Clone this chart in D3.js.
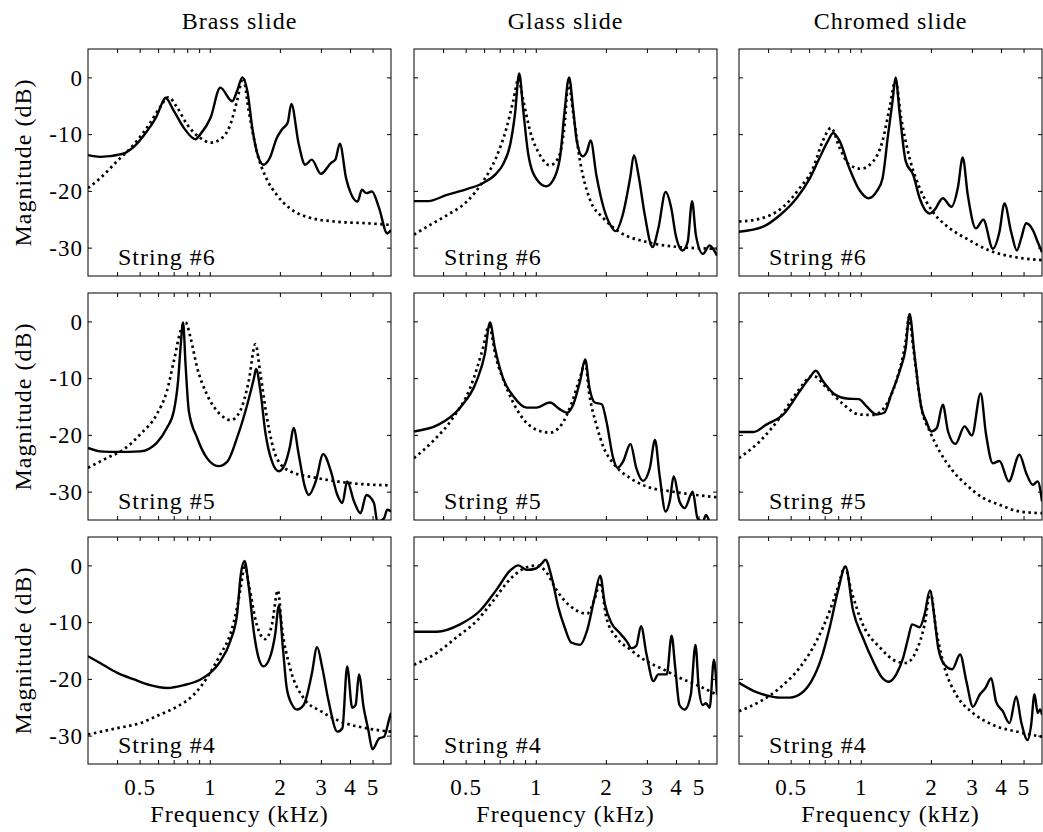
<!DOCTYPE html>
<html lang="en">
  <head>
    <meta charset="UTF-8" />
    <title>Slide frequency responses</title>
    <style>
      body { margin: 0; background: #fff; }
      text { font-family: "Liberation Serif", "Times New Roman", serif; fill: #000; letter-spacing: 1px; }
      .axis path { display: none; }
      .axis line { stroke: #000; stroke-width: 1; }
      .axis text { font-size: 23px; }
      .frame { fill: none; stroke: #000; stroke-width: 1; }
      .measured { fill: none; stroke: #000; stroke-width: 2.4; stroke-linejoin: round; }
      .model { fill: none; stroke: #000; stroke-width: 2.7; stroke-dasharray: 2.5 3.5; }
    </style>
    <script src="https://cdn.jsdelivr.net/npm/d3@7"></script>
  </head>
  <body>
    <svg width="1043" height="832"></svg>
    <script>
      var slides = ['Brass slide', 'Glass slide', 'Chromed slide']
      var strings = ['String #6', 'String #5', 'String #4']
      var xTicks = [0.4, 0.5, 0.6, 0.7, 0.8, 0.9, 1, 2, 3, 4, 5]
      var xTickLabels = { 0.5: '0.5', 1: '1', 2: '2', 3: '3', 4: '4', 5: '5' }
      var yTicks = [-30, -20, -10, 0]

      // [frequency kHz, magnitude dB] - solid = measured, dotted = model
      var brass6Meas = [[0.300,-13.7],[0.338,-14.0],[0.420,-13.5],[0.473,-12.2],[0.537,-9.5],[0.592,-6.8],[0.632,-4.1],[0.645,-3.6],[0.701,-5.9],[0.774,-8.9],[0.853,-10.8],[0.868,-10.9],[0.912,-10.0],[1.008,-7.1],[1.110,-1.8],[1.226,-4.0],[1.248,-4.2],[1.31,-2.4],[1.38,0.0],[1.45,-2.4],[1.53,-9.5],[1.59,-13.0],[1.70,-15.4],[1.81,-14.2],[1.94,-10.7],[2.04,-9.2],[2.16,-8.0],[2.24,-4.7],[2.41,-11.8],[2.57,-15.4],[2.74,-14.5],[3.0,-17.0],[3.31,-15.1],[3.46,-14.5],[3.62,-11.7],[3.85,-17.8],[4.03,-20.4],[4.31,-21.9],[4.50,-19.8],[4.70,-20.4],[4.97,-20.1],[5.33,-23.0],[5.78,-27.5],[6.0,-26.9]]
      var brass6Model = [[0.300,-19.5],[0.338,-17.8],[0.399,-14.8],[0.473,-11.8],[0.555,-8.0],[0.611,-5.3],[0.664,-3.5],[0.724,-5.3],[0.799,-8.3],[0.912,-10.7],[1.008,-11.5],[1.110,-10.9],[1.226,-8.3],[1.31,-4.1],[1.39,-0.1],[1.47,-5.9],[1.59,-13.0],[1.75,-17.8],[1.94,-20.7],[2.21,-23.1],[2.62,-24.6],[3.43,-25.4],[4.70,-25.7],[6.0,-26.0]]
      var glass6Meas = [[0.300,-21.8],[0.346,-21.8],[0.415,-20.7],[0.505,-19.7],[0.594,-18.6],[0.675,-17.0],[0.722,-15.4],[0.777,-11.8],[0.814,-6.5],[0.849,0.7],[0.884,-5.9],[0.929,-13.6],[1.01,-18.0],[1.11,-19.2],[1.18,-18.3],[1.27,-14.2],[1.33,-5.9],[1.39,0.0],[1.45,-5.9],[1.50,-11.2],[1.59,-13.9],[1.66,-13.0],[1.72,-11.1],[1.82,-17.2],[1.96,-23.1],[2.09,-26.0],[2.20,-27.1],[2.36,-24.3],[2.54,-17.8],[2.64,-13.7],[2.76,-17.2],[2.94,-24.3],[3.17,-29.9],[3.36,-26.6],[3.61,-20.2],[3.82,-23.1],[3.99,-27.8],[4.27,-30.5],[4.49,-29.0],[4.69,-21.8],[4.87,-27.8],[5.22,-31.1],[5.58,-29.6],[5.77,-30.2],[6.0,-31.4]]
      var glass6Model = [[0.300,-27.7],[0.352,-26.0],[0.415,-24.3],[0.505,-21.9],[0.594,-18.3],[0.675,-14.2],[0.749,-8.9],[0.801,-4.1],[0.842,-0.3],[0.884,-4.1],[0.946,-9.5],[1.04,-13.6],[1.148,-15.5],[1.25,-14.2],[1.33,-8.3],[1.38,-0.9],[1.45,-6.5],[1.55,-14.8],[1.70,-21.3],[1.96,-24.9],[2.28,-27.2],[2.99,-29.0],[4.13,-29.9],[6.0,-30.2]]
      var chrome6Meas = [[0.300,-27.2],[0.381,-26.3],[0.449,-24.3],[0.530,-21.3],[0.604,-17.8],[0.665,-14.2],[0.723,-11.2],[0.761,-9.8],[0.811,-11.2],[0.893,-16.0],[0.985,-19.8],[1.08,-21.3],[1.17,-20.1],[1.24,-17.8],[1.31,-10.1],[1.37,-4.1],[1.41,0.0],[1.47,-6.5],[1.56,-14.8],[1.68,-17.2],[1.79,-21.3],[1.98,-24.0],[2.07,-23.4],[2.25,-21.3],[2.45,-22.8],[2.61,-19.5],[2.74,-14.1],[2.88,-20.7],[3.12,-26.6],[3.36,-25.1],[3.69,-30.2],[3.94,-27.2],[4.14,-22.2],[4.42,-27.2],[4.68,-30.5],[4.88,-28.4],[5.13,-25.7],[5.48,-26.9],[5.75,-29.0],[6.0,-30.8]]
      var chrome6Model = [[0.300,-25.4],[0.369,-24.9],[0.465,-22.8],[0.547,-19.5],[0.624,-16.0],[0.687,-11.2],[0.746,-8.9],[0.811,-12.4],[0.893,-15.4],[1.00,-16.1],[1.13,-14.8],[1.24,-11.2],[1.33,-5.3],[1.41,-0.6],[1.49,-7.1],[1.62,-14.2],[1.79,-19.5],[2.04,-23.7],[2.41,-26.6],[2.84,-28.4],[3.56,-30.5],[4.63,-31.7],[6.0,-32.2]]

      var brass5Meas = [[0.300,-22.3],[0.338,-22.9],[0.399,-23.0],[0.503,-22.9],[0.592,-21.4],[0.654,-18.8],[0.701,-15.8],[0.731,-10.5],[0.749,-4.6],[0.768,-0.2],[0.787,-7.6],[0.813,-15.8],[0.882,-20.5],[0.973,-24.1],[1.09,-25.5],[1.19,-24.7],[1.31,-20.5],[1.45,-14.6],[1.55,-9.9],[1.58,-8.4],[1.65,-12.3],[1.73,-19.4],[1.85,-24.7],[1.98,-26.4],[2.11,-25.0],[2.21,-22.0],[2.29,-18.8],[2.41,-23.5],[2.57,-29.4],[2.66,-30.6],[2.85,-28.2],[3.07,-23.4],[3.31,-26.4],[3.53,-30.6],[3.71,-32.0],[3.89,-28.2],[4.16,-31.7],[4.44,-33.8],[4.70,-30.6],[5.07,-32.0],[5.24,-35.3],[5.60,-34.7],[5.78,-33.2],[6.0,-33.5]]
      var brass5Model = [[0.300,-25.8],[0.361,-24.1],[0.426,-22.6],[0.503,-19.9],[0.592,-16.4],[0.654,-12.3],[0.701,-7.0],[0.749,-1.7],[0.787,-0.2],[0.826,-2.8],[0.882,-8.1],[0.973,-12.9],[1.11,-16.4],[1.23,-17.4],[1.35,-15.8],[1.47,-10.5],[1.57,-4.0],[1.65,-9.3],[1.75,-16.4],[1.94,-24.1],[2.21,-26.4],[2.89,-27.6],[4.03,-28.5],[6.0,-28.9]]
      var glass5Meas = [[0.300,-19.4],[0.382,-18.2],[0.473,-15.2],[0.557,-10.5],[0.604,-5.8],[0.636,-0.2],[0.667,-4.6],[0.722,-9.9],[0.801,-13.2],[0.915,-15.2],[1.008,-15.2],[1.15,-14.3],[1.27,-15.5],[1.36,-16.1],[1.45,-14.6],[1.55,-10.5],[1.63,-6.7],[1.70,-11.7],[1.79,-14.3],[1.92,-14.6],[2.01,-17.6],[2.15,-24.1],[2.24,-25.8],[2.37,-24.7],[2.55,-21.6],[2.70,-25.8],[2.89,-28.1],[3.09,-25.8],[3.25,-20.9],[3.40,-27.1],[3.61,-33.5],[3.76,-31.7],[3.91,-27.3],[4.14,-31.7],[4.36,-32.9],[4.72,-30.0],[4.95,-34.7],[5.21,-35.3],[5.38,-34.1],[5.58,-35.3],[6.0,-36.5]]
      var glass5Model = [[0.300,-24.1],[0.362,-21.1],[0.441,-17.0],[0.523,-11.7],[0.594,-4.6],[0.629,-0.8],[0.675,-6.4],[0.749,-11.7],[0.855,-16.4],[1.008,-19.1],[1.15,-19.6],[1.29,-18.2],[1.42,-14.6],[1.55,-9.9],[1.63,-7.4],[1.70,-13.0],[1.82,-18.2],[1.96,-22.3],[2.15,-25.0],[2.54,-27.6],[2.99,-29.1],[3.87,-30.0],[6.0,-31.0]]
      var chrome5Meas = [[0.300,-19.5],[0.346,-19.5],[0.393,-18.2],[0.465,-16.4],[0.547,-12.3],[0.604,-9.9],[0.641,-8.7],[0.687,-10.5],[0.774,-12.9],[0.869,-13.6],[0.982,-13.7],[1.054,-14.9],[1.17,-16.4],[1.26,-16.1],[1.35,-12.9],[1.47,-8.7],[1.56,-4.6],[1.62,1.3],[1.70,-5.8],[1.82,-15.2],[1.91,-17.6],[2.01,-19.4],[2.12,-18.8],[2.25,-14.7],[2.37,-19.4],[2.55,-21.6],[2.79,-18.5],[3.0,-20.1],[3.27,-12.7],[3.45,-19.9],[3.69,-25.0],[3.94,-24.6],[4.32,-28.2],[4.80,-23.5],[5.13,-26.7],[5.48,-28.8],[5.75,-28.2],[6.0,-31.7]]
      var chrome5Model = [[0.300,-24.1],[0.369,-21.1],[0.449,-17.0],[0.530,-12.6],[0.624,-9.6],[0.713,-11.7],[0.841,-14.6],[0.982,-16.4],[1.13,-16.5],[1.29,-14.6],[1.42,-10.5],[1.56,-3.4],[1.61,0.7],[1.68,-4.6],[1.82,-15.2],[1.98,-19.4],[2.18,-22.9],[2.49,-26.4],[2.84,-28.8],[3.35,-31.1],[3.94,-32.3],[4.80,-33.5],[6.0,-33.8]]

      var brass4Meas = [[0.300,-16.0],[0.338,-17.2],[0.399,-18.9],[0.473,-20.1],[0.555,-21.1],[0.654,-21.6],[0.774,-21.1],[0.912,-20.1],[1.008,-18.9],[1.11,-16.9],[1.226,-13.3],[1.31,-8.6],[1.36,-1.5],[1.41,0.8],[1.47,-3.8],[1.55,-12.1],[1.62,-16.3],[1.70,-17.8],[1.81,-16.3],[1.91,-12.1],[1.98,-7.1],[2.06,-14.5],[2.14,-21.6],[2.26,-24.6],[2.37,-25.4],[2.53,-24.6],[2.74,-19.2],[2.89,-14.4],[3.04,-18.0],[3.24,-24.0],[3.53,-29.3],[3.71,-28.7],[3.89,-17.8],[4.09,-25.1],[4.23,-24.6],[4.37,-19.2],[4.58,-25.1],[4.78,-28.7],[5.0,-32.4],[5.33,-30.5],[5.60,-30.2],[5.91,-26.9],[6.0,-26.0]]
      var brass4Model = [[0.300,-29.8],[0.399,-28.7],[0.503,-27.8],[0.611,-26.3],[0.724,-24.9],[0.853,-22.8],[0.973,-19.8],[1.11,-15.7],[1.226,-12.1],[1.31,-7.4],[1.38,-2.1],[1.41,0.3],[1.47,-3.3],[1.59,-10.4],[1.73,-13.0],[1.85,-10.4],[1.96,-4.4],[2.04,-10.9],[2.21,-18.0],[2.53,-23.4],[3.0,-25.7],[3.64,-27.5],[4.70,-28.7],[6.0,-29.3]]
      var glass4Meas = [[0.300,-11.7],[0.376,-11.7],[0.473,-10.4],[0.576,-8.0],[0.675,-4.4],[0.777,-0.9],[0.842,0.0],[0.915,-0.8],[0.993,-0.6],[1.06,0.3],[1.10,1.0],[1.17,-2.1],[1.25,-7.4],[1.33,-10.9],[1.42,-13.6],[1.55,-14.0],[1.66,-11.5],[1.79,-5.6],[1.89,-1.8],[1.98,-6.8],[2.11,-10.1],[2.28,-11.8],[2.45,-13.3],[2.58,-14.6],[2.70,-14.2],[2.83,-10.7],[2.99,-15.7],[3.20,-20.4],[3.36,-19.2],[3.65,-19.2],[3.83,-12.4],[3.97,-18.0],[4.14,-24.6],[4.36,-25.4],[4.63,-22.8],[4.85,-14.0],[5.01,-21.6],[5.21,-24.6],[5.38,-24.3],[5.58,-25.1],[5.82,-16.6],[6.0,-22.8]]
      var glass4Model = [[0.300,-17.5],[0.376,-15.4],[0.456,-12.7],[0.557,-9.8],[0.657,-6.2],[0.777,-2.4],[0.884,-0.6],[1.008,0.0],[1.11,-1.2],[1.23,-4.4],[1.40,-7.1],[1.66,-8.5],[1.79,-5.9],[1.89,-3.0],[2.01,-9.2],[2.22,-12.7],[2.54,-14.8],[2.99,-16.9],[3.52,-18.3],[4.14,-19.8],[4.87,-21.0],[6.0,-22.8]]
      var chrome4Meas = [[0.300,-20.7],[0.346,-22.1],[0.394,-22.9],[0.449,-23.3],[0.496,-23.3],[0.557,-22.5],[0.614,-20.4],[0.678,-16.3],[0.736,-10.9],[0.799,-4.4],[0.86,-0.2],[0.927,-8.0],[1.02,-12.7],[1.13,-16.9],[1.23,-19.7],[1.32,-20.5],[1.42,-19.2],[1.52,-16.3],[1.60,-12.7],[1.66,-10.4],[1.79,-10.9],[1.88,-8.6],[1.98,-4.4],[2.08,-9.8],[2.15,-14.5],[2.29,-17.5],[2.47,-18.3],[2.67,-15.7],[2.84,-20.4],[3.03,-24.9],[3.24,-22.8],[3.43,-21.6],[3.63,-19.9],[3.81,-24.0],[4.07,-25.7],[4.35,-27.8],[4.65,-23.1],[4.88,-27.5],[5.21,-30.8],[5.39,-28.1],[5.57,-22.7],[5.75,-26.0],[5.89,-25.4],[6.0,-26.3]]
      var chrome4Model = [[0.300,-25.7],[0.369,-24.0],[0.449,-21.6],[0.547,-18.0],[0.646,-13.3],[0.736,-8.0],[0.799,-3.8],[0.854,-0.3],[0.91,-4.4],[1.02,-10.4],[1.21,-14.5],[1.42,-16.9],[1.56,-17.2],[1.73,-15.1],[1.88,-10.4],[1.99,-4.7],[2.11,-11.5],[2.29,-18.0],[2.57,-22.8],[3.03,-26.0],[3.69,-28.1],[4.80,-29.4],[6.0,-30.2]]

      var panels = [
        [[brass6Meas, brass6Model], [glass6Meas, glass6Model], [chrome6Meas, chrome6Model]],
        [[brass5Meas, brass5Model], [glass5Meas, glass5Model], [chrome5Meas, chrome5Model]],
        [[brass4Meas, brass4Model], [glass4Meas, glass4Model], [chrome4Meas, chrome4Model]]
      ]

      var panelW = 303, panelH = 227
      var colLeft = [88, 414, 739]
      var rowTop = [49, 293, 537]

      var x = d3.scaleLog().domain([0.3, 6]).range([0, panelW])
      var y = d3.scaleLinear().domain([-35, 5]).range([panelH, 0])

      var line = d3.line()
        .x(function(d) { return x(d[0]) })
        .y(function(d) { return y(d[1]) })
        .curve(d3.curveMonotoneX)

      var svg = d3.select('svg')

      svg.append('defs').append('clipPath')
        .attr('id', 'plotClip')
        .append('rect')
        .attr('width', panelW)
        .attr('height', panelH)

      // column titles
      slides.forEach(function(s, c) {
        svg.append('text')
          .attr('x', colLeft[c] + panelW / 2)
          .attr('y', 29)
          .attr('text-anchor', 'middle')
          .style('font-size', '24px')
          .text(s)
      })

      panels.forEach(function(row, r) {
        row.forEach(function(series, c) {
          var g = svg.append('g')
            .attr('transform', `translate(${colLeft[c]}, ${rowTop[r]})`)

          var plot = g.append('g').attr('clip-path', 'url(#plotClip)')
          plot.append('path').attr('class', 'model').attr('d', line(series[1]))
          plot.append('path').attr('class', 'measured').attr('d', line(series[0]))

          // ticks on all four sides, pointing inward
          var bottom = g.append('g')
            .attr('class', 'axis')
            .attr('transform', `translate(0, ${panelH})`)
            .call(d3.axisBottom(x).tickValues(xTicks).tickSize(-4)
              .tickFormat(function(d) { return r === 2 && xTickLabels[d] ? xTickLabels[d] : '' }))
          bottom.selectAll('text').attr('y', 31).attr('dy', null)

          g.append('g')
            .attr('class', 'axis')
            .call(d3.axisTop(x).tickValues(xTicks).tickSize(-4).tickFormat(''))

          var left = g.append('g')
            .attr('class', 'axis')
            .call(d3.axisLeft(y).tickValues(yTicks).tickSize(-4)
              .tickFormat(function(d) { return c === 0 ? d : '' }))
          left.selectAll('text').attr('x', -5).attr('dy', '0.34em')

          g.append('g')
            .attr('class', 'axis')
            .attr('transform', `translate(${panelW}, 0)`)
            .call(d3.axisRight(y).tickValues(yTicks).tickSize(-4).tickFormat(''))

          g.append('rect')
            .attr('class', 'frame')
            .attr('width', panelW)
            .attr('height', panelH)

          g.append('text')
            .attr('x', 30)
            .attr('y', panelH - 11)
            .style('font-size', '24px')
            .text(strings[r])

          if (c === 0) {
            g.append('text')
              .attr('transform', `translate(${31 - colLeft[0]}, ${panelH / 2}) rotate(-90)`)
              .attr('text-anchor', 'middle')
              .style('font-size', '24px')
              .text('Magnitude (dB)')
          }
          if (r === 2) {
            g.append('text')
              .attr('x', panelW / 2)
              .attr('y', 822 - rowTop[2])
              .attr('text-anchor', 'middle')
              .style('font-size', '24px')
              .text('Frequency (kHz)')
          }
        })
      })
    </script>
  </body>
</html>
